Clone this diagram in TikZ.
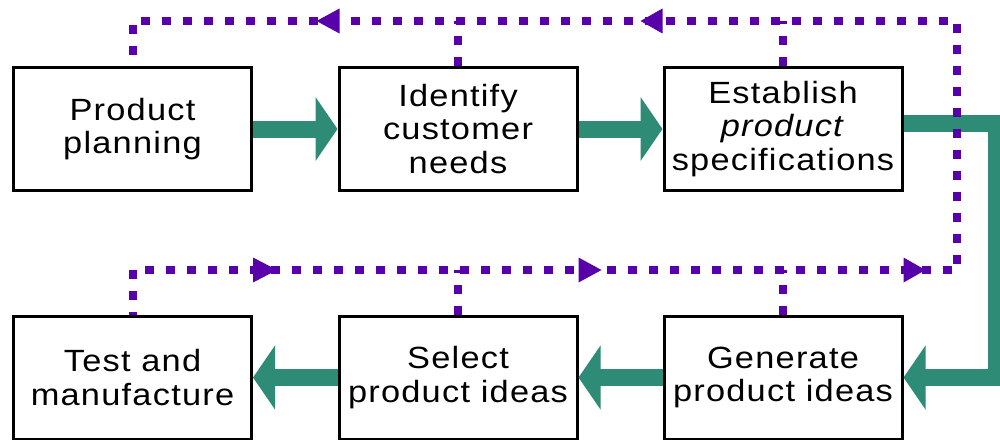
\documentclass[tikz,border=0pt]{standalone}
\usepackage{fontspec}
\setmainfont{Liberation Sans}[FakeStretch=1.12,LetterSpace=4]
\usetikzlibrary{arrows.meta}
\definecolor{flowgreen}{RGB}{46,139,117}
\definecolor{loopviolet}{RGB}{88,0,170}

\begin{document}
\begin{tikzpicture}[x=0.5pt,y=-0.5pt,
  stage/.style={draw=black, line width=1.5pt, fill=white,
    minimum width=119pt, minimum height=61.5pt, inner sep=0pt,
    align=center, font=\fontsize{15.35pt}{16.75pt}\selectfont},
  flow/.style={draw=flowgreen, line width=8.5pt, line join=miter,
    -{Triangle[length=11pt,width=31.5pt]}},
  feedback/.style={draw=loopviolet, line width=4pt, dash pattern=on 4.5pt off 6pt},
  loophead/.style={fill=loopviolet}]
\useasboundingbox (0,0) rectangle (1000,439);

% stages of the process
\node[stage] (pp)  at (132.5,129) {Product\\planning};
\node[stage] (icn) at (458,129)   {Identify\\customer\\needs};
\node[stage] (est) at (783,129)   {Establish\\\textit{product}\\specifications};
\node[stage] (tm)  at (132.5,377.5) {Test and\\manufacture};
\node[stage] (sel) at (458,377.5) {Select\\product ideas};
\node[stage] (gen) at (783,377.5) {Generate\\product ideas};

% corners of the feedback loop and of the main bend
\coordinate (ne) at (957,21);
\coordinate (se) at (957,270);
\coordinate (rim) at (996,0);

% main forward flow
\draw[flow] (pp.east) -- (icn.west);
\draw[flow] (icn.east) -- (est.west);
\draw[flow] ([yshift=3pt]est.east) -- ([yshift=3pt]est.east -| rim)
  -- (rim |- gen.east) -- (gen.east);
\draw[flow] (gen.west) -- (sel.east);
\draw[flow] (sel.west) -- (tm.east);

% dotted feedback loop
\draw[feedback] ([yshift=5.5pt]pp.north) -- (pp.north |- ne) -- (ne) -- (se)
  -- (tm.north |- se) -- (tm.north);
\draw[feedback] (icn.north) -- (icn.north |- ne);
\draw[feedback] (est.north) -- (est.north |- ne);
\draw[feedback] (sel.north) -- (sel.north |- se);
\draw[feedback] (gen.north) -- (gen.north |- se);

% direction marks on the loop
\fill[loophead] (icn.west |- ne) ++(2,-12.5) -- ++(0,25) -- ++(-23,-12.5) -- cycle;
\fill[loophead] (est.west |- ne) ++(0,-12.5) -- ++(0,25) -- ++(-22,-12.5) -- cycle;
\fill[loophead] (pp.east |- se) ++(0,-12.5) -- ++(0,25) -- ++(24,-12.5) -- cycle;
\fill[loophead] (sel.east |- se) ++(0,-12.5) -- ++(0,25) -- ++(23,-12.5) -- cycle;
\fill[loophead] (gen.east |- se) ++(0,-12.5) -- ++(0,25) -- ++(22,-12.5) -- cycle;
\end{tikzpicture}
\end{document}
